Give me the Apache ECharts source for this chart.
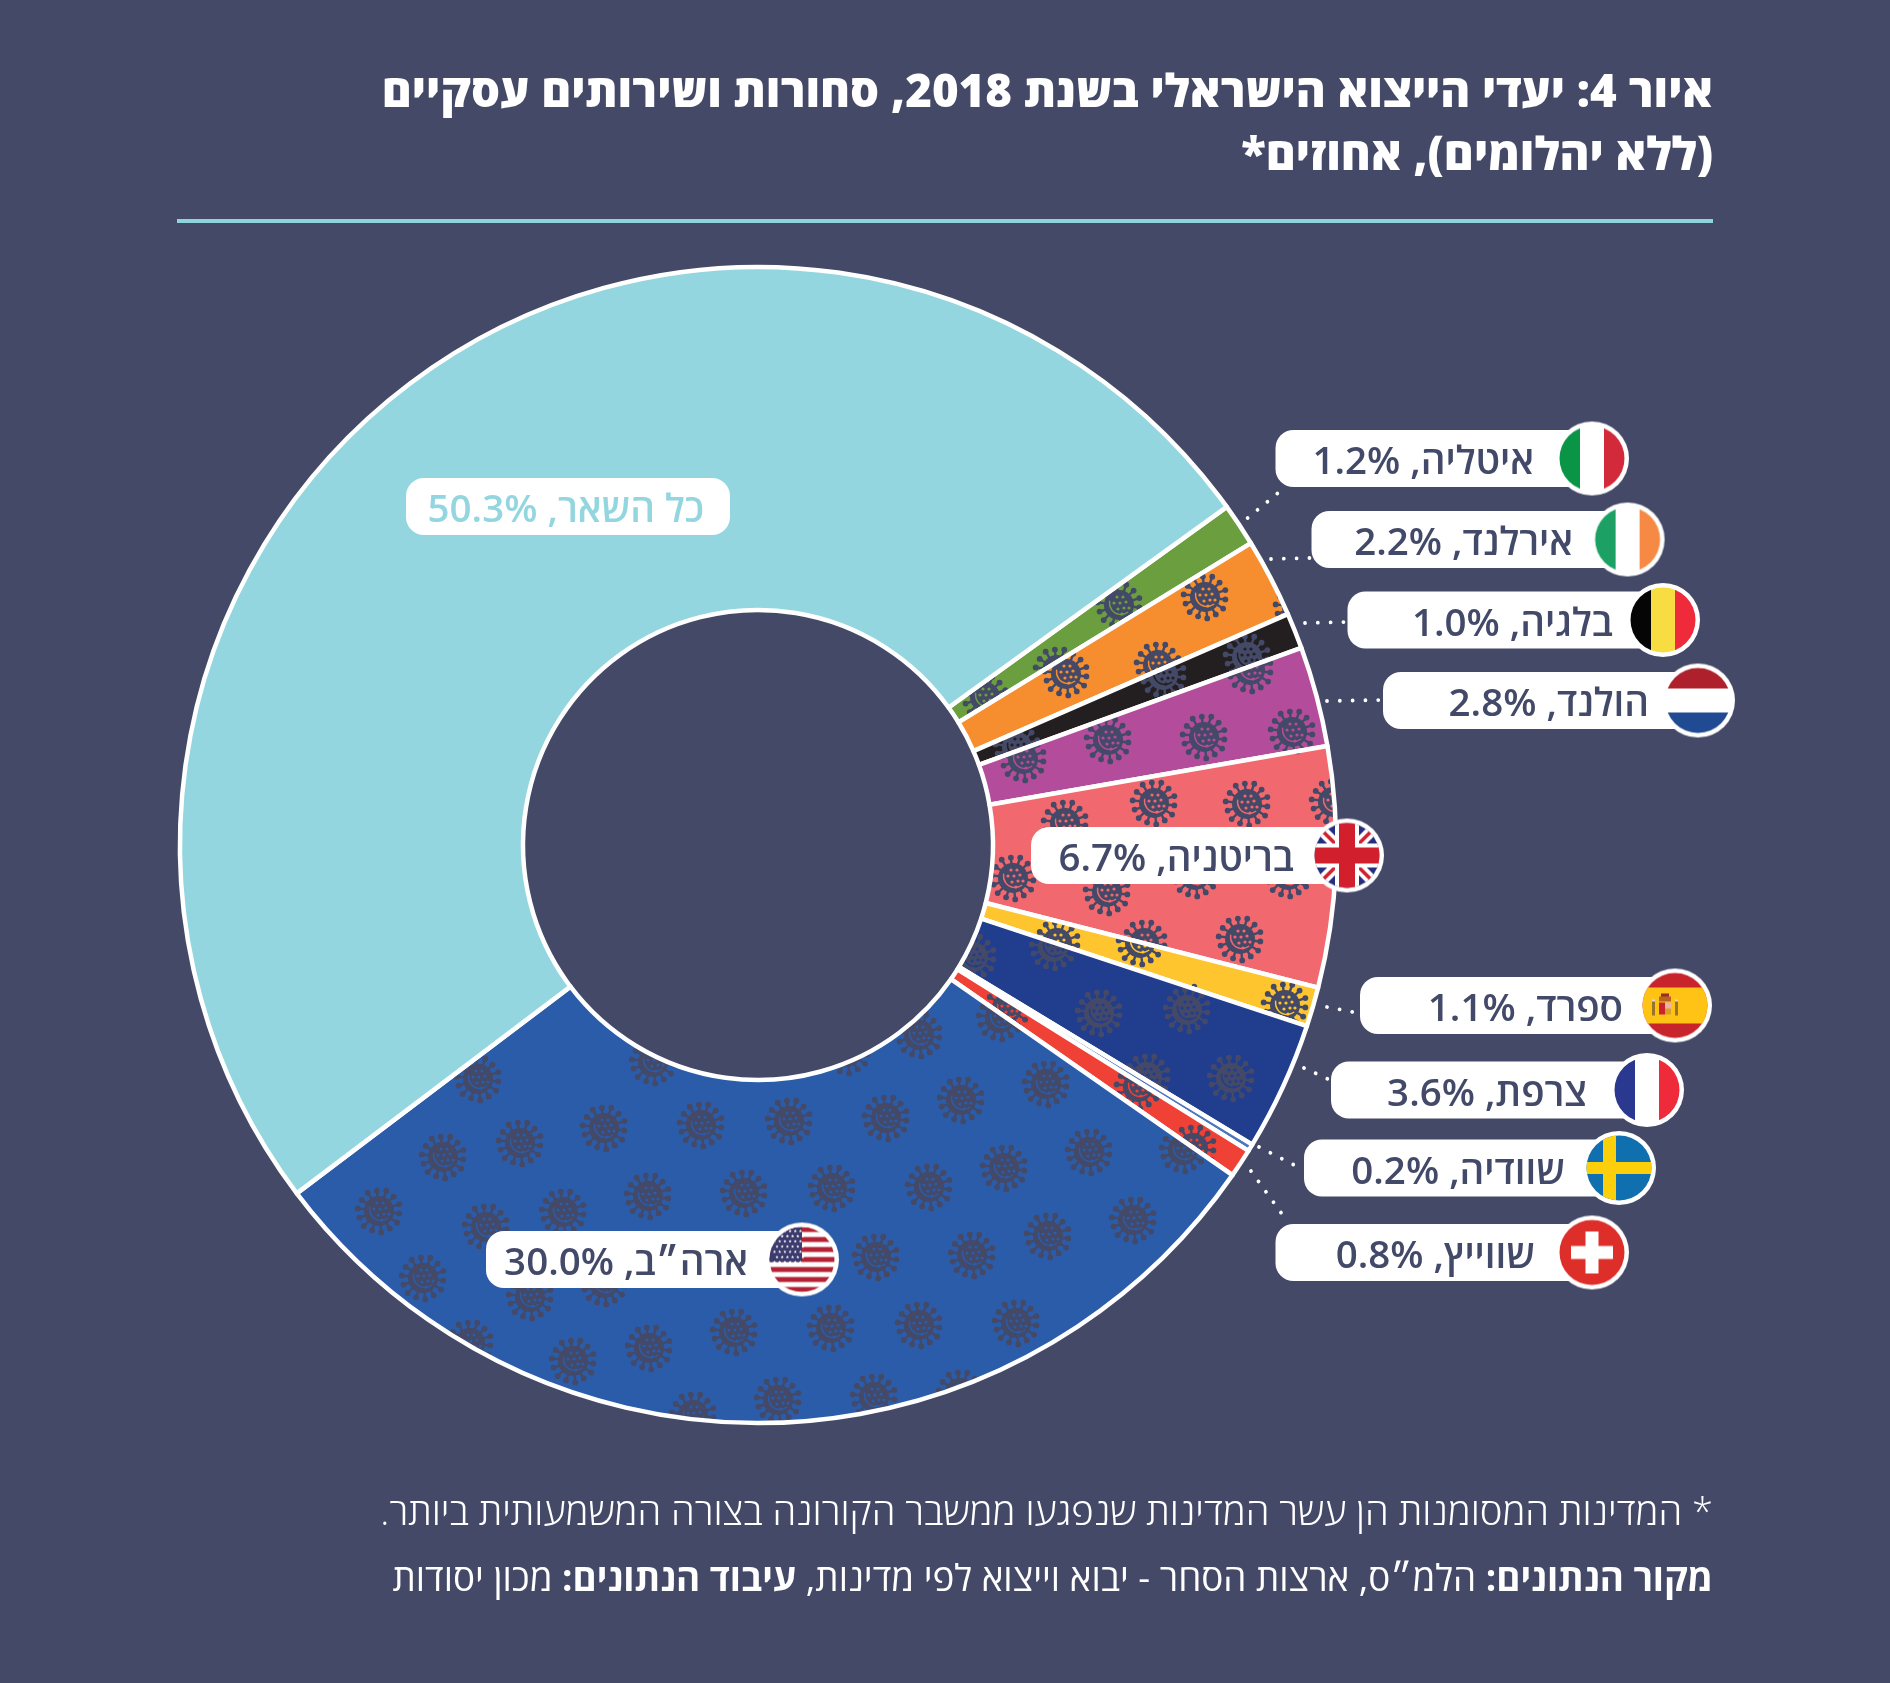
<!DOCTYPE html>
<html dir="rtl"><head><meta charset="utf-8">
<style>html,body{margin:0;padding:0;background:#444967}#c{position:absolute;left:0;top:0;width:1890px;height:1683px}</style>
<script src="https://cdn.jsdelivr.net/npm/echarts@6/dist/echarts.min.js"></script></head>
<body><div id="c"></div><script>
const categories=['איטליה','אירלנד','בלגיה','הולנד','בריטניה','ספרד','צרפת','שוודיה','שווייץ','ארה״ב','כל השאר'];
const values=[1.2,2.2,1.0,2.8,6.7,1.1,3.6,0.2,0.8,30.0,50.3];
const sliceColors=['#6a9e3f','#f68e2f','#231f20','#b44c9c','#f2686f','#ffc52f','#203d8e','#4b76bf','#ef4136','#2a5caa','#93d6df'];
const flagCodes=['it','ie','be','nl','uk','es','fr','se','ch','us',null];
const titleLines=['איור 4: יעדי הייצוא הישראלי בשנת 2018, סחורות ושירותים עסקיים','(ללא יהלומים), אחוזים*'];
const noteLine='* המדינות המסומנות הן עשר המדינות שנפגעו ממשבר הקורונה בצורה המשמעותית ביותר.';
// physical left-to-right pieces of the source line
const sourceParts=[['מכון יסודות','n'],[' ','n'],['עיבוד הנתונים:','b'],[' ','n'],['הלמ״ס, ארצות הסחר - יבוא וייצוא לפי מדינות,','n'],[' ','n'],['מקור הנתונים:','b']];

// layout (separate from data)
const BG='#444967',INK='#434968',FONT='"Open Sans","Liberation Sans","DejaVu Sans",sans-serif';
const pillLeft =[1275.5,1311.5,1347.5,1383,1031,1360,1331,1304,1275.5,486,406];
const pillRight=[1592,1627.6,1663,1698,1347,1675,1647,1619,1592,802,730];
const pillCy   =[458.5,539.5,620,700.5,855.5,1005.5,1090,1168,1252.5,1259.5,506.5];
const textPad  =[58,54.6,50,49,53,52,60,54,57,54,26];
const leaders=[[1247.6,518,1278,493],[1271,559,1309.6,558],[1305,623,1345,622],[1327,701,1379.6,700],[1327,1007,1353,1012],[1304,1068,1328,1079],[1259,1147,1300,1168],[1251,1171,1287,1221]];
// virus decoration centres per slice, in page pixels (a fill texture, not data)
const virusTexture=[
 [[1119,605],[985,697],[1057,670]],
 [[1205,597],[1066,674],[1158,665],[1297,607]],
 [[1247,657],[1163,675],[1017,747]],
 [[1023,759],[1108,740],[1204,737],[1292,732],[1250,670]],
 [[1154,803],[1247,804],[1333,802],[1065,823],[1013,878],[1107,892],[1195,875],[1288,875],[1144,943],[1240,939],[1295,730]],
 [[1057,943],[1140,943],[1285,1005],[1187,1007]],
 [[1053,947],[973,957],[1099,1013],[1187,1010],[1231,1078],[1147,1077]],
 [],
 [[1007,1008],[1138,1087],[1193,1148]],
 [[478,1079],[653,1062],[443,1157],[520,1143],[604,1128],[701,1125],[789,1121],[379,1211],[486,1227],[563,1212],[648,1196],[744,1193],[832,1188],[423,1278],[530,1297],[604,1283],[470,1343],[573,1361],[649,1348],[734,1332],[831,1328],[693,1415],[778,1400],[919,1035],[847,1052],[1000,1018],[1046,1084],[961,1100],[886,1118],[1089,1152],[1004,1168],[929,1187],[1183,1150],[1133,1220],[1048,1236],[972,1255],[876,1257],[1016,1323],[919,1325],[960,1393],[874,1397]],
 []
];
function drawVirus(g,x,y,base){
  g.save();g.translate(x,y);g.fillStyle=BG;g.strokeStyle=BG;g.lineWidth=2.4;g.lineCap='round';
  const n=14;
  for(let i=0;i<n;i++){const a=i/n*Math.PI*2+0.12,r=(i%2?21.5:20.5);
    g.beginPath();g.moveTo(Math.cos(a)*12,Math.sin(a)*12);g.lineTo(Math.cos(a)*r,Math.sin(a)*r);g.stroke();
    g.beginPath();g.arc(Math.cos(a)*r,Math.sin(a)*r,2.9,0,7);g.fill();}
  g.beginPath();g.arc(0,0,15,0,7);g.fill();
  g.strokeStyle=base;g.lineWidth=1.4;g.beginPath();g.arc(2,-2,11.5,Math.PI*0.3,Math.PI*1.05);g.stroke();
  g.fillStyle=base;
  [[-3,-8],[3,-8],[-6,-2],[0,-2],[6,-3],[-2,4],[4,3],[9,3],[2,9]].forEach(p=>{g.beginPath();g.arc(p[0]+1,p[1],1.6,0,7);g.fill();});
  g.restore();
}
function sliceFill(i){
  if(!virusTexture[i].length) return sliceColors[i];
  const cv=document.createElement('canvas');cv.width=1890;cv.height=1683;const g=cv.getContext('2d');
  g.fillStyle=sliceColors[i];g.fillRect(0,0,1890,1683);
  virusTexture[i].forEach(p=>drawVirus(g,p[0],p[1],sliceColors[i]));
  return {image:cv,repeat:'no-repeat'};
}
function star(g,x,y,r){g.beginPath();for(let k=0;k<10;k++){const a=-Math.PI/2+k*Math.PI/5,q=k%2?r*0.42:r;g.lineTo(x+Math.cos(a)*q,y+Math.sin(a)*q);}g.closePath();g.fill();}
function flag(code){
  const S=78,c=S/2,R=37,r=32.5;
  const cv=document.createElement('canvas');cv.width=S;cv.height=S;const g=cv.getContext('2d');
  g.fillStyle='#fff';g.beginPath();g.arc(c,c,R,0,7);g.fill();
  g.save();g.beginPath();g.arc(c,c,r,0,7);g.clip();
  const rect=(col,x,y,w,h)=>{g.fillStyle=col;g.fillRect(x,y,w,h);};
  const v=(a,b,d)=>{rect(a,0,0,c-12,S);rect(b,c-12,0,24,S);rect(d,c+12,0,S,S);};
  const x0=c-r,y0=c-r,D=r*2;
  if(code==='it')v('#0a9446','#fff','#d22a3a');
  if(code==='ie')v('#1da063','#fff','#f68a45');
  if(code==='be')v('#050505','#f8dd42','#ee2a3b');
  if(code==='fr')v('#2a388f','#fff','#ee2a3b');
  if(code==='nl'){rect('#ad202c',0,0,S,c-12);rect('#fff',0,c-12,S,24);rect('#204a91',0,c+12,S,S);}
  if(code==='se'){rect('#106fae',0,0,S,S);rect('#fdcf0b',c-16,0,13,S);rect('#fdcf0b',0,c-6,S,12);}
  if(code==='ch'){rect('#dd2e2a',0,0,S,S);rect('#fff',c-6.5,c-21,13,42);rect('#fff',c-21,c-6.5,42,13);}
  if(code==='es'){rect('#c8242c',0,0,S,S);rect('#fec315',0,c-18,S,36);
    const e=c-10;
    rect('#c8242c',e-6,c-3,6,12);rect('#e8b4a8',e,c-3,6,6);rect('#d9a020',e,c+3,6,6);
    rect('#9a7424',e-13,c-4,3,14);rect('#9a7424',e+10,c-4,3,14);rect('#d9d9d9',e-13,c-6,3,2);rect('#d9d9d9',e+10,c-6,3,2);
    rect('#b5651d',e-6,c-9,12,5);rect('#a3262e',e-4,c-12,8,3);}
  if(code==='uk'){rect('#252f7e',0,0,S,S);
    g.strokeStyle='#fff';g.lineWidth=11;g.beginPath();g.moveTo(0,0);g.lineTo(S,S);g.moveTo(S,0);g.lineTo(0,S);g.stroke();
    g.strokeStyle='#d21f2d';g.lineWidth=3.5;g.beginPath();g.moveTo(0,0);g.lineTo(S,S);g.moveTo(S,0);g.lineTo(0,S);g.stroke();
    rect('#fff',c-12,0,24,S);rect('#fff',0,c-12,S,24);rect('#d21f2d',c-8,0,16,S);rect('#d21f2d',0,c-8,S,16);}
  if(code==='us'){rect('#fff',0,0,S,S);const h=D/13;for(let k=0;k<13;k+=2)rect('#b32134',0,y0+k*h,S,h);
    rect('#3c3b6e',0,y0,c,h*7);g.fillStyle='#fff';
    for(let a=0;a<7;a++)for(let b=0;b<6;b++)star(g,x0+5+b*5.2+(a%2?2.5:0),y0+4+a*5.2,1.7);}
  g.restore();return cv;
}
const W=1890,H=1683;
const chart=echarts.init(document.getElementById('c'),null,{renderer:'canvas',width:W,height:H});
const seriesData=categories.map((n,i)=>({name:n,value:values[i],
  itemStyle:{color:sliceFill(i)},
  label:{width:pillRight[i]-pillLeft[i]-textPad[i],padding:[10,textPad[i],0,0],
         color:i===10?sliceColors[10]:INK}}));
const graphic=[{type:'rect',shape:{x:177,y:219,width:1536,height:4},style:{fill:'#8fd3de'},z:5}];
leaders.forEach(l=>graphic.push({type:'line',shape:{x1:l[0],y1:l[1],x2:l[2],y2:l[3]},z:5,
  style:{stroke:'#fff',lineWidth:3.8,lineCap:'round',lineDash:[0.01,12.8],fill:null}}));
flagCodes.forEach((f,i)=>{ if(f) graphic.push({type:'image',z:100,x:pillRight[i]-39,y:pillCy[i]-39,style:{image:flag(f),width:78,height:78}});});
const rich={n:{fontFamily:FONT,fontSize:36.8,fontWeight:'normal',color:'#fff'},b:{fontFamily:FONT,fontSize:36.8,fontWeight:'bold',color:'#fff'}};
chart.setOption({
  animation:false,backgroundColor:BG,
  title:[
    {text:titleLines[0],right:172,top:66,textStyle:{color:'#fff',fontFamily:FONT,fontSize:45.6,fontWeight:800}},
    {text:titleLines[1],right:172,top:129,textStyle:{color:'#fff',fontFamily:FONT,fontSize:45.6,fontWeight:800}},
    {text:noteLine,right:172,top:1490,textStyle:{color:'#fff',fontFamily:FONT,fontSize:38.2,fontWeight:300}},
    {text:sourceParts.map(p=>'{'+p[1]+'|'+p[0]+'}').join(''),right:172,top:1557,textStyle:{color:'#fff',rich}}
  ],
  graphic,
  series:[{type:'pie',silent:true,center:[758,845],radius:[235,578],startAngle:35.8,clockwise:true,
    sort:null,avoidLabelOverlap:false,emphasis:{disabled:true},
    itemStyle:{borderColor:'#fff',borderWidth:4.5},
    label:{show:true,position:'inside',backgroundColor:'#fff',borderRadius:18,height:47,lineHeight:47,
      fontFamily:FONT,fontSize:38.5,fontWeight:600,textBorderWidth:0,
      formatter:p=>p.name+', '+p.value.toFixed(1)+'%'},
    labelLine:{show:false},
    labelLayout:p=>({x:pillRight[p.dataIndex],y:pillCy[p.dataIndex]-28.5,align:'right',verticalAlign:'top'}),
    data:seriesData}]
});
</script></body></html>
